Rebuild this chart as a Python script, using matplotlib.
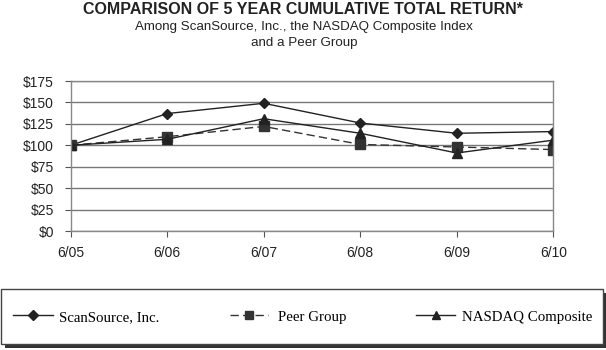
import matplotlib
matplotlib.use("Agg")
import matplotlib.pyplot as plt
from matplotlib.patches import Rectangle

periods = ["6/05", "6/06", "6/07", "6/08", "6/09", "6/10"]
scansource = [100, 137, 149, 126, 114, 116]
peer_group = [100, 110, 122, 101, 98, 95]
nasdaq = [100, 107, 131, 114, 91, 106]
y_ticks = [0, 25, 50, 75, 100, 125, 150, 175]
y_labels = ["$" + str(v) for v in y_ticks]

plt.rcParams['font.family'] = ['Liberation Sans', 'DejaVu Sans']

fig = plt.figure(figsize=(6.06, 3.5), dpi=100)
W, H = 606, 350
ax = fig.add_axes([70.7 / W, 1 - 231 / H, (553.3 - 70.7) / W, (231 - 81) / H])

x = list(range(len(periods)))
col = "#222222"
l1, = ax.plot(x, scansource, color=col, lw=1.0, marker="D", ms=5, label="ScanSource, Inc.")
l2, = ax.plot(x, peer_group, color="#333333", lw=1.0, ls=(0, (6, 3)), marker="s", ms=7, label="Peer Group")
l3, = ax.plot(x, nasdaq, color=col, lw=1.0, marker="^", ms=7, label="NASDAQ Composite")

ax.set_xlim(0, 5)
ax.set_ylim(0, 175)
ax.set_yticks(y_ticks)
ax.set_yticklabels(y_labels, fontsize=10, color="#222222")
ax.set_xticks(x)
ax.set_xticklabels(periods, fontsize=10, color="#222222")
ax.tick_params(axis="x", direction="out", length=4, pad=7, color="#555555")
ax.tick_params(axis="y", direction="out", length=4, pad=8, color="#555555")
ax.grid(axis="y", color="#777777", lw=1.0)
ax.set_axisbelow(True)
for s in ["left", "right", "top", "bottom"]:
    ax.spines[s].set_color("#888888")
    ax.spines[s].set_linewidth(1.0)

fig.text(303 / W, 1 - 9 / H, "COMPARISON OF 5 YEAR CUMULATIVE TOTAL RETURN*",
         ha="center", va="center", fontsize=11.5, fontweight="bold", color="#222222")
fig.text(304 / W, 1 - 27 / H, "Among ScanSource, Inc., the NASDAQ Composite Index",
         ha="center", va="center", fontsize=9.6, color="#222222")
fig.text(304 / W, 1 - 43 / H, "and a Peer Group",
         ha="center", va="center", fontsize=9.6, color="#222222")

# legend box with shadow
shadow = Rectangle((5 / W, 1 - 348 / H), 601 / W, 55 / H, transform=fig.transFigure,
                   facecolor="#333333", edgecolor="none")
box = Rectangle((0.5 / W, 1 - 344 / H), 602 / W, 55 / H, transform=fig.transFigure,
                facecolor="white", edgecolor="#444444", lw=1.0)
fig.add_artist(shadow)
fig.add_artist(box)

fs = 10.7
legend_font = {"family": "Liberation Serif", "size": fs}
entries = [(l1, "ScanSource, Inc.", 12.7, 40, 6), (l2, "Peer Group", 230, 38, 10),
           (l3, "NASDAQ Composite", 416, 39, 7)]
for handle, text, x0, hlen, gap in entries:
    leg = fig.legend([handle], [text], loc="center left", bbox_to_anchor=(x0 / W, 1 - 317 / H),
                     frameon=False, borderpad=0, borderaxespad=0,
                     handlelength=hlen * 0.72 / fs, handletextpad=gap * 0.72 / fs,
                     prop=legend_font)
    for h in leg.legend_handles:
        h.set_markersize(5 if h.get_marker() == "D" else 6)

fig.savefig("out.png", dpi=100)
